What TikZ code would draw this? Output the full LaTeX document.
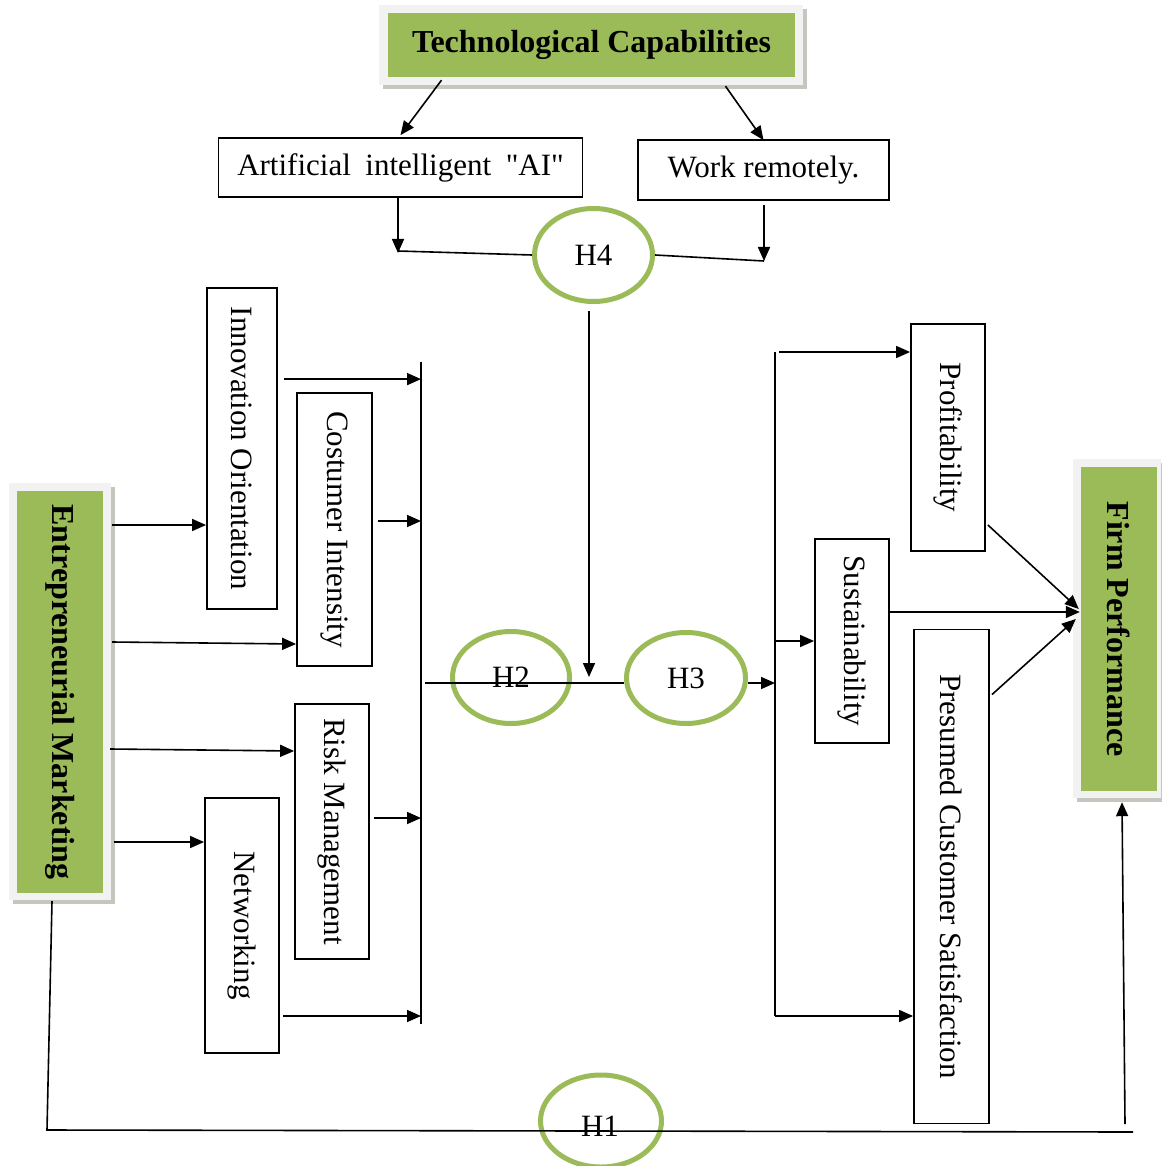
\documentclass[tikz,border=0pt]{standalone}
\usepackage{fontspec}
\setmainfont{Liberation Serif}
\usetikzlibrary{arrows.meta,shapes.geometric,calc}
\definecolor{hgreen}{HTML}{9BBB59}
\definecolor{framegray}{HTML}{F2F2F2}
\definecolor{shadowgray}{HTML}{C6C6BE}
\newcommand\straightq{\XeTeXglyph\XeTeXcharglyph"22\relax}
\begin{document}
\begin{tikzpicture}[x=1pt,y=-1pt,
  every node/.style={font=\fontsize{31}{37}\selectfont},
  box/.style={draw,line width=1.8pt,fill=white,inner sep=0pt},
  gbox/.style={fill=hgreen,inner sep=0pt,font=\fontsize{32}{38}\selectfont\bfseries},
  hyp/.style={ellipse,draw=hgreen,line width=5pt,inner sep=0pt},
  conn/.style={line width=1.6pt},
  arr/.style={conn,-{Triangle[length=14pt,width=12pt]}},
]
\useasboundingbox (0,0) rectangle (1161,1166);

% green framed boxes
\fill[shadowgray] (383,9) rectangle (807,89);
\fill[framegray] (379,5) rectangle (803,85);
\node[gbox,minimum width=407pt,minimum height=64pt] (tc) at (591.5,45) {Technological Capabilities};

\fill[shadowgray] (13,487) rectangle (115,904);
\fill[framegray] (9,483) rectangle (111,900);
\node[gbox,minimum width=86pt,minimum height=402pt] (em) at (60,692) {\rotatebox{-90}{Entrepreneurial Marketing}};

\fill[shadowgray] (1077,463) rectangle (1165,802);
\fill[framegray] (1073,459) rectangle (1161,798);
\node[gbox,minimum width=76pt,minimum height=324pt] (fp) at (1119,629) {\rotatebox{-90}{Firm Performance}};

% top boxes
\node[box,minimum width=364pt,minimum height=59pt] (ai) at (400.5,167.5) {Artificial\hspace{0.22em} intelligent\hspace{0.22em} \straightq AI\straightq};
\node[box,minimum width=251pt,minimum height=60pt] (wr) at (763.5,170) {Work remotely.};

% left dimension boxes
\node[box,minimum width=70pt,minimum height=321pt] (io) at (242,448.5) {\rotatebox{-90}{Innovation Orientation}};
\node[box,minimum width=75pt,minimum height=273pt] (ci) at (334.5,529.5) {\rotatebox{-90}{Costumer Intensity}};
\node[box,minimum width=74pt,minimum height=255pt] (rm) at (332,831.5) {\rotatebox{-90}{Risk Management}};
\node[box,minimum width=74pt,minimum height=255pt] (nw) at (242,925.5) {\rotatebox{-90}{Networking}};

% right dimension boxes
\node[box,minimum width=74pt,minimum height=227pt] (prof) at (948,437.5) {\rotatebox{-90}{Profitability}};
\node[box,minimum width=74pt,minimum height=204pt] (sust) at (852,641) {\rotatebox{-90}{Sustainability}};
\node[box,minimum width=75pt,minimum height=494pt] (pcs) at (951.5,876.5) {\rotatebox{-90}{Presumed Customer Satisfaction}};

% hypotheses
\node[hyp,minimum width=118pt,minimum height=93pt] (h4) at (593.5,255) {H4};
\node[hyp,minimum width=117pt,minimum height=92pt] (h2) at (511,677.5) {H2};
\node[hyp,minimum width=119pt,minimum height=91pt] (h3) at (686,678) {H3};
\node[hyp,minimum width=121pt,minimum height=92pt] (h1) at (601,1121) {};

% coordinates
\coordinate (aiEnd) at (398,253);
\coordinate (wrEnd) at (764,261);
\coordinate (hm) at (589,677);
\coordinate (busLt) at (421,362);
\coordinate (busLb) at (421,1024);
\coordinate (hl) at (425,683);
\coordinate (busRt) at (775,352);
\coordinate (busRb) at (775,1016);
\coordinate (h1L) at (47,1130);
\coordinate (h1R) at (1133,1132);
\coordinate (h1up) at (1125,1124);

% top connectors
\draw[arr] ($(tc.south)+(-150,3)$) -- ($(ai.north)+(0,-2)$);
\draw[arr] ($(tc.south)+(134,9)$) -- ($(wr.north)+(0,1)$);
\draw[arr] ($(ai.south)+(-2.5,-1)$) -- (aiEnd);
\draw[conn] ($(aiEnd)+(0,-2)$) -- (h4.west);
\draw[arr] ($(wr.south)+(0.5,4)$) -- (wrEnd);
\draw[conn] (h4.east) -- (wrEnd);
\draw[arr] ($(h4.south)+(-4.5,7)$) -- (hm);

% left bus
\draw[conn] (busLt) -- (busLb);
\draw[arr] ($(io.north east)+(6,92)$) coordinate (s1) -- (s1 -| busLt);
\draw[arr] ($(ci.east)+(5,-8.5)$) coordinate (s2) -- (s2 -| busLt);
\draw[arr] ($(rm.east)+(4,-13.5)$) coordinate (s3) -- (s3 -| busLt);
\draw[arr] ($(nw.east)+(3,90.5)$) coordinate (s4) -- (s4 -| busLt);

% from EM
\draw[arr] ($(em.east)+(9,-167)$) coordinate (e1) -- (e1 -| io.west);
\draw[arr] ($(em.east)+(9,-50)$) -- ($(ci.west)+(0,114.5)$);
\draw[arr] ($(em.east)+(7,57)$) -- ($(rm.west)+(0,-80.5)$);
\draw[arr] ($(em.east)+(11,150)$) coordinate (e4) -- (e4 -| nw.west);

% middle line
\draw[conn] (hl) -- (hl -| h3.west);
\draw[arr] (hl -| h3.east) -- (hl -| busRt);

% right bus
\draw[conn] (busRt) -- (busRb);
\draw[arr] ($(busRt)+(4,0)$) -- (busRt -| prof.west);
\draw[arr] (sust.west -| busRt) -- (sust.west);
\draw[arr] (busRb) -- (busRb -| pcs.west);

% into firm performance
\draw[arr] ($(prof.east)+(2,87.5)$) -- ($(fp.west)+(-2,-20)$);
\draw[arr] ($(sust.east)+(0,-29)$) coordinate (t2) -- ($(t2 -| fp.west)+(-1,0)$);
\draw[arr] ($(pcs.north east)+(2,66)$) -- ($(fp.west)+(-5,-10)$);

% H1 path
\draw[conn] ($(em.south)+(-8,8)$) -- (h1L) -- (h1R);
\node (h1t) at (600,1126) {H1};
\draw[arr] (h1up) -- ($(fp.south)+(3,11)$);
\end{tikzpicture}
\end{document}
